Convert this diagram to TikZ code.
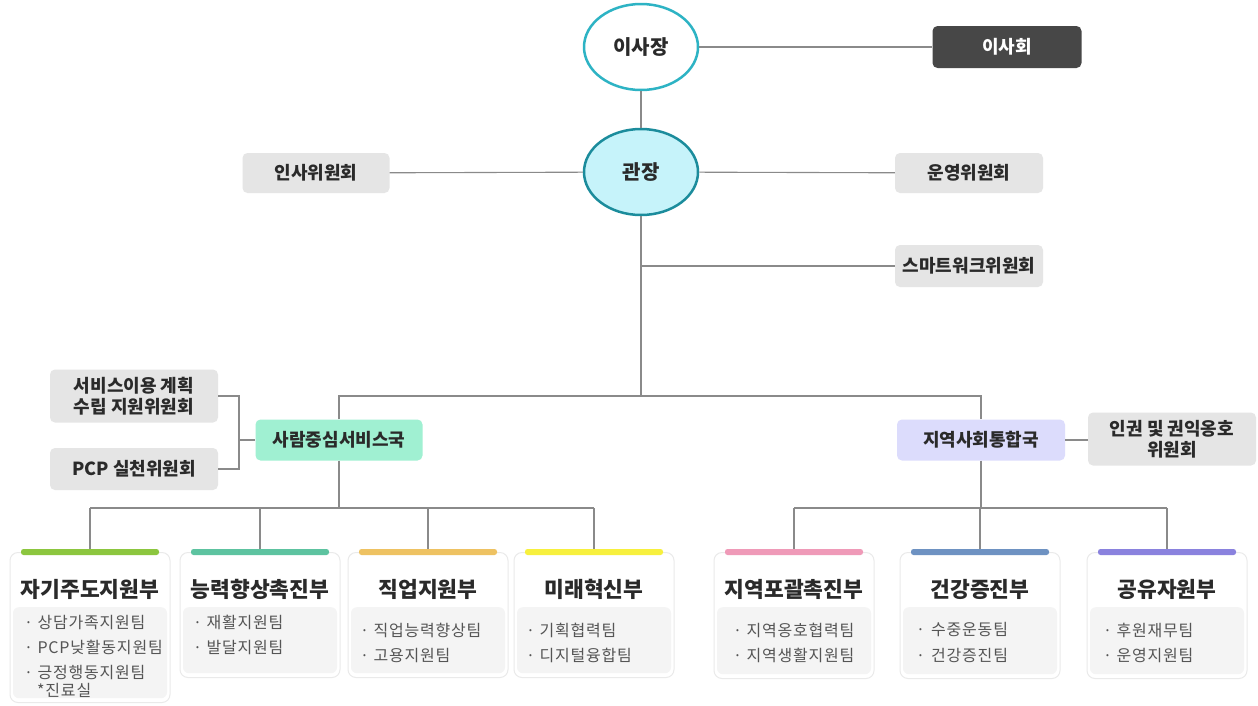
\documentclass[tikz,border=0pt]{standalone}
\usepackage{fontspec}
\setmainfont{Noto Sans CJK KR}
\newfontfamily\kritem[LetterSpace=5]{Noto Sans CJK KR}
\usetikzlibrary{shapes.geometric}
\definecolor{linegray}{HTML}{8A8A8A}
\definecolor{boxgray}{HTML}{E5E5E5}
\definecolor{darkbox}{HTML}{474747}
\definecolor{tealA}{HTML}{2DB3C4}
\definecolor{tealB}{HTML}{1B8C9C}
\definecolor{cyanfill}{HTML}{C6F3FA}
\definecolor{greenfill}{HTML}{A0F0D2}
\definecolor{lavfill}{HTML}{DCDCFC}
\definecolor{txt}{HTML}{2A2A2A}
\definecolor{itemtxt}{HTML}{555555}
\definecolor{innergray}{HTML}{F4F4F4}
\definecolor{cardline}{HTML}{EAEAEA}
\definecolor{barA}{HTML}{8CC63F}
\definecolor{barB}{HTML}{5DC3A0}
\definecolor{barC}{HTML}{EEC262}
\definecolor{barD}{HTML}{F7F03E}
\definecolor{barE}{HTML}{EF9AB8}
\definecolor{barF}{HTML}{6E92C2}
\definecolor{barG}{HTML}{8A82DE}
\tikzset{
  conn/.style={draw=linegray, line width=1.1pt},
  boxbase/.style={rectangle, rounded corners=5pt, inner sep=0pt, align=center,
    font=\fontsize{18}{21}\selectfont\bfseries, text=txt},
  gbox/.style={boxbase, fill=boxgray},
  oval/.style={ellipse, minimum width=114pt, minimum height=86pt, inner sep=0pt,
    line width=2.5pt, font=\fontsize{20}{23}\selectfont\bfseries, text=txt},
  cardbox/.style={rectangle, rounded corners=8pt, draw=cardline, line width=1pt, fill=white,
    minimum width=160pt, inner sep=0pt},
  innerbox/.style={rectangle, rounded corners=6pt, fill=innergray, minimum width=154pt, inner sep=0pt},
  cardtitle/.style={font=\fontsize{21.5}{24}\selectfont\bfseries, text=txt, inner sep=0pt},
  item/.style={font=\kritem\fontsize{16}{19}\selectfont, text=itemtxt, inner sep=0pt, anchor=west},
}
\newcommand{\orgcard}[5]{%
  \node[cardbox, minimum height=#3, anchor=north] (#1) at (#2,552) {};
  \node[innerbox, minimum height=#3-59, anchor=north] (#1in) at (#2,607) {};
  \fill[#4, rounded corners=2.5pt] (#1.north) ++(-69,-3) rectangle ++(138,6);
  \node[cardtitle] (#1t) at ([yshift=-37pt]#1.north) {#5};
}
\begin{document}
\begin{tikzpicture}[x=1pt, y=-1pt]
\useasboundingbox (0,0) rectangle (1258,705);
\fill[white] (0,0) rectangle (1258,705);

% top level
\node[oval, draw=tealA, fill=white] (isajang) at (641,47) {이사장};
\node[boxbase, fill=darkbox, text=white, minimum width=149pt, minimum height=42pt] (isahoe) at (1007,47) {이사회};
\node[oval, draw=tealB, fill=cyanfill] (gwanjang) at (641,172) {관장};
\node[gbox, minimum width=147pt, minimum height=40pt] (insa) at (316,173) {인사위원회};
\node[gbox, minimum width=148pt, minimum height=40pt] (unyeong) at (969,173) {운영위원회};
\node[gbox, minimum width=148pt, minimum height=42pt] (smart) at (969,266) {스마트워크위원회};

% bureaus
\node[boxbase, fill=greenfill, minimum width=167pt, minimum height=41pt] (saram) at (339,440) {사람중심서비스국};
\node[boxbase, fill=lavfill, minimum width=168pt, minimum height=41pt] (jiyeok) at (981,440) {지역사회통합국};
\node[gbox, minimum width=168pt, minimum height=53pt] (ingwon) at (1172,439) {인권 및 권익옹호\\위원회};
\node[gbox, minimum width=168pt, minimum height=53pt] (svc) at (134,396) {서비스이용 계획\\수립 지원위원회};
\node[gbox, minimum width=168pt, minimum height=42pt] (pcp) at (134,469) {PCP 실천위원회};

\coordinate (mid) at (641,396);
\coordinate (sw) at (641,266);
\coordinate (brk) at (239,440);
\coordinate (hlL) at (339,508);
\coordinate (hlR) at (981,508);

% connectors (top)
\draw[conn] (isajang) -- (isahoe);
\draw[conn] (isajang.south) -- (gwanjang.north);
\draw[conn] (insa) -- (gwanjang);
\draw[conn] (gwanjang) -- (unyeong);
\draw[conn] (gwanjang.south) -- (mid);
\draw[conn] (sw) -- (smart.west);
\draw[conn] (saram.north) |- (mid) -| (jiyeok.north);
\draw[conn] (svc.east) -| (brk);
\draw[conn] (pcp.east) -| (brk);
\draw[conn] (brk) -- (saram.west);
\draw[conn] (jiyeok.east) -- (jiyeok.east -| ingwon.west);
\draw[conn] (saram.south) -- (hlL);
\draw[conn] (jiyeok.south) -- (hlR);

% card anchors
\node[cardbox, minimum height=150, anchor=north, draw=none, fill=none] (c1) at (90,552) {};
\node[cardbox, minimum height=125, anchor=north, draw=none, fill=none] (c2) at (260,552) {};
\node[cardbox, minimum height=125, anchor=north, draw=none, fill=none] (c3) at (428,552) {};
\node[cardbox, minimum height=125, anchor=north, draw=none, fill=none] (c4) at (594,552) {};
\node[cardbox, minimum height=126, anchor=north, draw=none, fill=none] (c5) at (794,552) {};
\node[cardbox, minimum height=126, anchor=north, draw=none, fill=none] (c6) at (980,552) {};
\node[cardbox, minimum height=126, anchor=north, draw=none, fill=none] (c7) at (1167,552) {};

\draw[conn] (c1.north |- hlL) -- (c4.north |- hlL);
\draw[conn] (c5.north |- hlR) -- (c7.north |- hlR);
\foreach \c/\h in {c1/hlL,c2/hlL,c3/hlL,c4/hlL,c5/hlR,c6/hlR,c7/hlR}{
  \draw[conn] (\c.north |- \h) -- (\c.north);
}

\orgcard{k1}{90}{150}{barA}{자기주도지원부}
\orgcard{k2}{260}{125}{barB}{능력향상촉진부}
\orgcard{k3}{428}{125}{barC}{직업지원부}
\orgcard{k4}{594}{125}{barD}{미래혁신부}
\orgcard{k5}{794}{126}{barE}{지역포괄촉진부}
\orgcard{k6}{980}{126}{barF}{건강증진부}
\orgcard{k7}{1167}{126}{barG}{공유자원부}

% items
\node[item] (i11) at (24,622) {· 상담가족지원팀};
\node[item] (i12) at (24,647) {· PCP낮활동지원팀};
\node[item] (i13) at (24,672) {· 긍정행동지원팀};
\node[item] (i14) at (37,690) {*진료실};
\node[item] (i21) at (193,622) {· 재활지원팀};
\node[item] (i22) at (193,647) {· 발달지원팀};
\node[item] (i31) at (360,630) {· 직업능력향상팀};
\node[item] (i32) at (360,655) {· 고용지원팀};
\node[item] (i41) at (526,630) {· 기획협력팀};
\node[item] (i42) at (526,655) {· 디지털융합팀};
\node[item] (i51) at (733,630) {· 지역옹호협력팀};
\node[item] (i52) at (733,655) {· 지역생활지원팀};
\node[item] (i61) at (916,630) {·\hspace{6pt}수중운동팀};
\node[item] (i62) at (916,655) {·\hspace{6pt}건강증진팀};
\node[item] (i71) at (1103,630) {· 후원재무팀};
\node[item] (i72) at (1103,655) {· 운영지원팀};
\end{tikzpicture}
\end{document}
